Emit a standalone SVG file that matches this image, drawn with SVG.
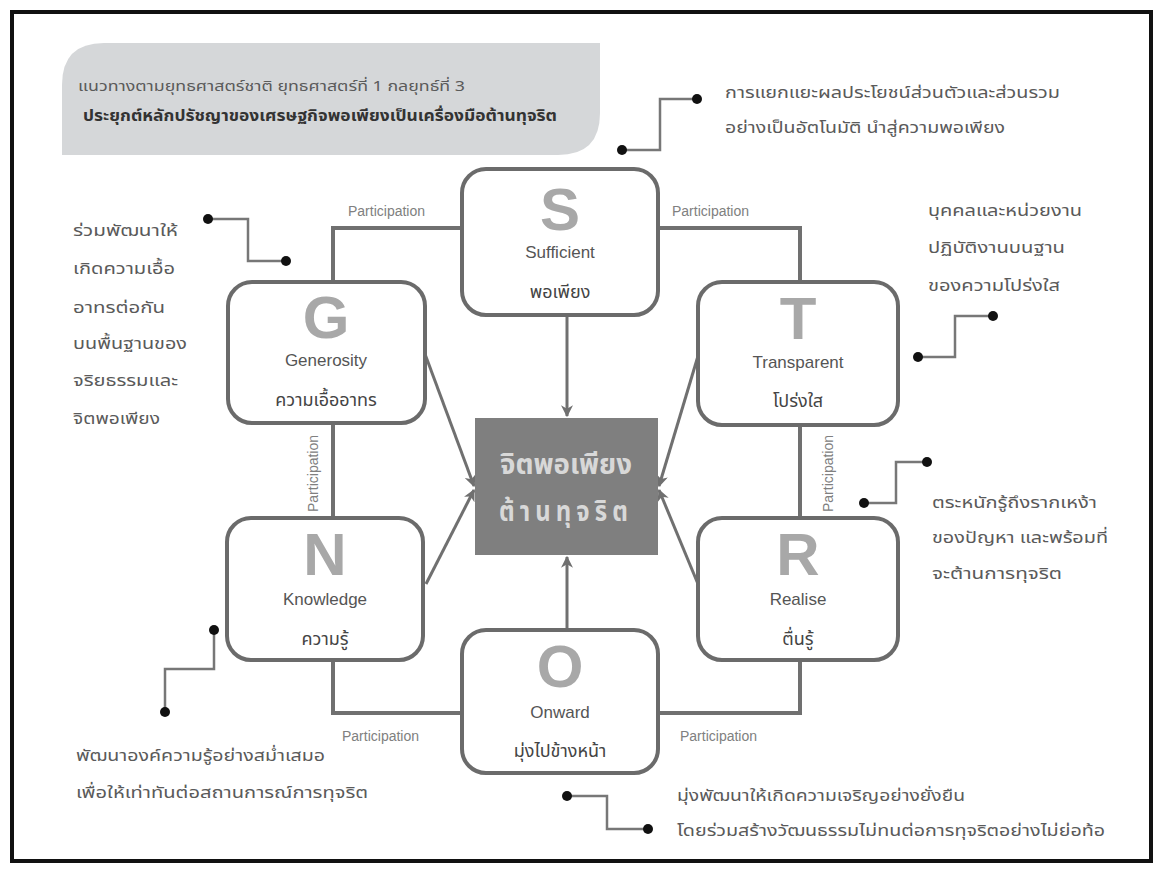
<svg xmlns="http://www.w3.org/2000/svg" width="1158" height="870" viewBox="0 0 1158 870">
<defs>
<marker id="ah" viewBox="0 0 10 10" refX="9" refY="5" markerWidth="4" markerHeight="4" orient="auto" markerUnits="strokeWidth">
<path d="M0,0 L10,5 L0,10 L3,5 Z" fill="#707070"/>
</marker>
<style>
.box{fill:#fff;stroke:#6b6b6b;stroke-width:4}
.big{font-family:"Liberation Sans",Arial,sans-serif;font-weight:bold;font-size:60px;fill:#a8a8a8;text-anchor:middle}
.en{font-family:"Liberation Sans",Arial,sans-serif;font-size:17px;fill:#555;text-anchor:middle}
.th{font-family:"Noto Sans Thai","Loma","Garuda","Noto Sans",sans-serif;font-size:18px;fill:#444;text-anchor:middle}
.note{font-family:"Noto Sans Thai","Loma","Garuda","Noto Sans",sans-serif;font-size:16px;fill:#5a5a5a}
.part{font-family:"Liberation Sans",Arial,sans-serif;font-size:14px;fill:#808080}
.pl{fill:none;stroke:#707070;stroke-width:4}
.ar{fill:none;stroke:#707070;stroke-width:3;marker-end:url(#ah)}
.cl{fill:none;stroke:#777;stroke-width:2.5}
.dot{fill:#111}
</style>
</defs>
<rect x="0" y="0" width="1158" height="870" fill="#fff"/>
<rect x="12" y="12" width="1139" height="849" fill="#fff" stroke="#111" stroke-width="4"/>

<g id="title">
<path d="M62,155 L62,85 Q62,43 104,43 L600,43 L600,113 Q600,155 558,155 Z" fill="#d5d7d9"/>
<text x="78" y="91" class="note" style="font-size:14px;fill:#5a5a5a" textLength="387" lengthAdjust="spacingAndGlyphs">แนวทางตามยุทธศาสตร์ชาติ ยุทธศาสตร์ที่ 1 กลยุทธ์ที่ 3</text>
<text x="83" y="121" class="note" style="font-size:15px;font-weight:bold;fill:#333" textLength="474" lengthAdjust="spacingAndGlyphs">ประยุกต์หลักปรัชญาของเศรษฐกิจพอเพียงเป็นเครื่องมือต้านทุจริต</text>
</g>

<g id="connectors">
<path class="pl" d="M462,228 H333 V282"/>
<path class="pl" d="M658,228 H800 V282"/>
<path class="pl" d="M333,423 V518"/>
<path class="pl" d="M800,425 V518"/>
<path class="pl" d="M333,660 V713 H462"/>
<path class="pl" d="M658,713 H800 V660"/>
<text x="348" y="216" class="part">Participation</text>
<text x="672" y="216" class="part">Participation</text>
<text x="342" y="741" class="part">Participation</text>
<text x="680" y="741" class="part">Participation</text>
<text transform="translate(318,512) rotate(-90)" class="part">Participation</text>
<text transform="translate(833,512) rotate(-90)" class="part">Participation</text>
<line class="ar" x1="567" y1="315" x2="567" y2="416"/>
<line class="ar" x1="567" y1="630" x2="567" y2="557"/>
<line class="ar" x1="425" y1="354" x2="474" y2="486"/>
<line class="ar" x1="426" y1="584" x2="474" y2="490"/>
<line class="ar" x1="698" y1="356" x2="659" y2="486"/>
<line class="ar" x1="698" y1="584" x2="659" y2="490"/>
<path class="cl" d="M622,150 H660 V99 H697"/>
<circle class="dot" cx="622" cy="150" r="5"/><circle class="dot" cx="697" cy="99" r="5"/>
<path class="cl" d="M208,219 H248 V261 H286"/>
<circle class="dot" cx="208" cy="219" r="5"/><circle class="dot" cx="286" cy="261" r="5"/>
<path class="cl" d="M918,357 H955 V316 H993"/>
<circle class="dot" cx="918" cy="357" r="5"/><circle class="dot" cx="993" cy="316" r="5"/>
<path class="cl" d="M864,503 H896 V462 H927"/>
<circle class="dot" cx="864" cy="503" r="5"/><circle class="dot" cx="927" cy="462" r="5"/>
<path class="cl" d="M214,630 V669 H165 V712"/>
<circle class="dot" cx="214" cy="630" r="5"/><circle class="dot" cx="165" cy="712" r="5"/>
<path class="cl" d="M567,796 H607 V829 H648"/>
<circle class="dot" cx="567" cy="796" r="5"/><circle class="dot" cx="648" cy="829" r="5"/>
</g>

<g id="center">
<rect x="475" y="418" width="183" height="137" fill="#7f7f7f"/>
<text x="566" y="474" class="th" style="font-size:28px;fill:#d8d8d8;font-weight:bold" textLength="132" lengthAdjust="spacingAndGlyphs">จิตพอเพียง</text>
<text x="566" y="521" class="th" style="font-size:28px;fill:#d8d8d8;font-weight:bold;letter-spacing:6px" textLength="134" lengthAdjust="spacingAndGlyphs">ต้านทุจริต</text>
</g>

<g id="node-s">
<rect class="box" x="462" y="169" width="196" height="146" rx="24"/>
<text x="560" y="230" class="big">S</text>
<text x="560" y="258" class="en">Sufficient</text>
<text x="560" y="298" class="th">พอเพียง</text>
</g>
<g id="node-g">
<rect class="box" x="228" y="282" width="197" height="141" rx="24"/>
<text x="326" y="338" class="big">G</text>
<text x="326" y="366" class="en">Generosity</text>
<text x="326" y="406" class="th">ความเอื้ออาทร</text>
</g>
<g id="node-t">
<rect class="box" x="698" y="282" width="200" height="143" rx="24"/>
<text x="798" y="339" class="big">T</text>
<text x="798" y="368" class="en">Transparent</text>
<text x="798" y="407" class="th">โปร่งใส</text>
</g>
<g id="node-n">
<rect class="box" x="227" y="518" width="196" height="142" rx="24"/>
<text x="325" y="575" class="big">N</text>
<text x="325" y="605" class="en">Knowledge</text>
<text x="325" y="645" class="th">ความรู้</text>
</g>
<g id="node-r">
<rect class="box" x="698" y="518" width="200" height="142" rx="24"/>
<text x="798" y="575" class="big">R</text>
<text x="798" y="605" class="en">Realise</text>
<text x="798" y="645" class="th">ตื่นรู้</text>
</g>
<g id="node-o">
<rect class="box" x="462" y="630" width="196" height="143" rx="24"/>
<text x="560" y="687" class="big">O</text>
<text x="560" y="718" class="en">Onward</text>
<text x="560" y="757" class="th">มุ่งไปข้างหน้า</text>
</g>

<g id="notes">
<text x="725" y="98" class="note" textLength="335" lengthAdjust="spacingAndGlyphs">การแยกแยะผลประโยชน์ส่วนตัวและส่วนรวม</text>
<text x="725" y="133" class="note" textLength="280" lengthAdjust="spacingAndGlyphs">อย่างเป็นอัตโนมัติ นำสู่ความพอเพียง</text>
<text x="73" y="236" class="note" textLength="105" lengthAdjust="spacingAndGlyphs">ร่วมพัฒนาให้</text>
<text x="73" y="274" class="note" textLength="102" lengthAdjust="spacingAndGlyphs">เกิดความเอื้อ</text>
<text x="73" y="313" class="note" textLength="92" lengthAdjust="spacingAndGlyphs">อาทรต่อกัน</text>
<text x="73" y="349" class="note" textLength="114" lengthAdjust="spacingAndGlyphs">บนพื้นฐานของ</text>
<text x="73" y="386" class="note" textLength="105" lengthAdjust="spacingAndGlyphs">จริยธรรมและ</text>
<text x="73" y="424" class="note" textLength="87" lengthAdjust="spacingAndGlyphs">จิตพอเพียง</text>
<text x="928" y="216" class="note" textLength="154" lengthAdjust="spacingAndGlyphs">บุคคลและหน่วยงาน</text>
<text x="928" y="253" class="note" textLength="137" lengthAdjust="spacingAndGlyphs">ปฏิบัติงานบนฐาน</text>
<text x="928" y="291" class="note" textLength="132" lengthAdjust="spacingAndGlyphs">ของความโปร่งใส</text>
<text x="932" y="508" class="note" textLength="165" lengthAdjust="spacingAndGlyphs">ตระหนักรู้ถึงรากเหง้า</text>
<text x="932" y="543" class="note" textLength="176" lengthAdjust="spacingAndGlyphs">ของปัญหา และพร้อมที่</text>
<text x="932" y="579" class="note" textLength="130" lengthAdjust="spacingAndGlyphs">จะต้านการทุจริต</text>
<text x="76" y="761" class="note" textLength="249" lengthAdjust="spacingAndGlyphs">พัฒนาองค์ความรู้อย่างสม่ำเสมอ</text>
<text x="76" y="798" class="note" textLength="292" lengthAdjust="spacingAndGlyphs">เพื่อให้เท่าทันต่อสถานการณ์การทุจริต</text>
<text x="677" y="801" class="note" textLength="288" lengthAdjust="spacingAndGlyphs">มุ่งพัฒนาให้เกิดความเจริญอย่างยั่งยืน</text>
<text x="677" y="836" class="note" textLength="428" lengthAdjust="spacingAndGlyphs">โดยร่วมสร้างวัฒนธรรมไม่ทนต่อการทุจริตอย่างไม่ย่อท้อ</text>
</g>
</svg>
